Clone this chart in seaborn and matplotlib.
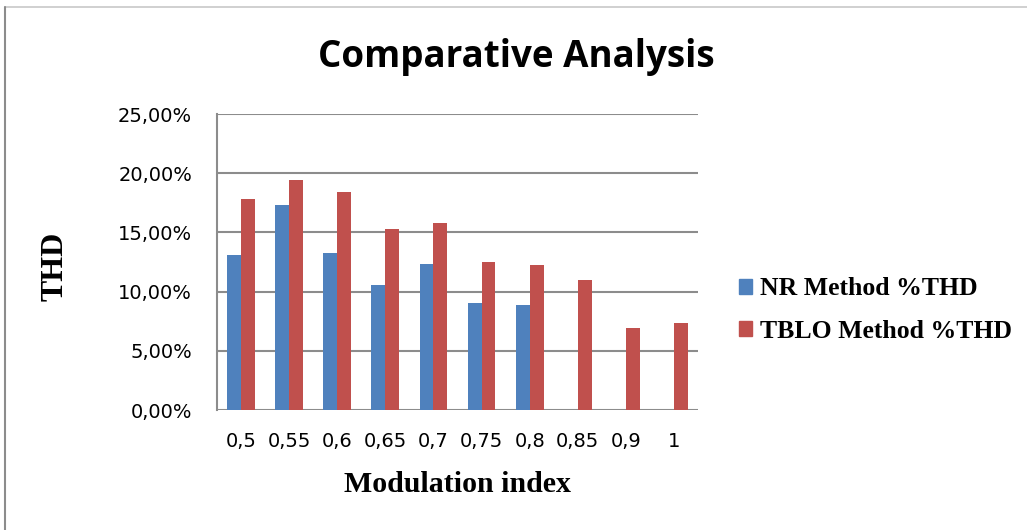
import matplotlib
matplotlib.use("Agg")
import matplotlib.pyplot as plt
from matplotlib.lines import Line2D
from matplotlib.ticker import FuncFormatter, MultipleLocator
import seaborn as sns
import pandas as pd

modulation_index = ["0,5", "0,55", "0,6", "0,65", "0,7", "0,75", "0,8", "0,85", "0,9", "1"]
nr_thd = [13.07, 17.29, 13.26, 10.56, 12.33, 9.04, 8.87, None, None, None]
tblo_thd = [17.85, 19.43, 18.38, 15.29, 15.79, 12.50, 12.22, 10.98, 6.95, 7.32]
series_names = ["NR Method %THD", "TBLO Method %THD"]
colors = ["#4F81BD", "#C0504D"]

df = pd.DataFrame({
    "Modulation index": modulation_index * 2,
    "THD": nr_thd + tblo_thd,
    "Series": [series_names[0]] * len(modulation_index) + [series_names[1]] * len(modulation_index),
})

sns.set_theme(style="white")
plt.rcParams.update({"text.color": "black", "axes.labelcolor": "black",
                     "xtick.color": "black", "ytick.color": "black"})

fig = plt.figure(figsize=(10.27, 5.30), dpi=100)
ax = fig.add_axes([217 / 1027, 1 - 410 / 530, (698 - 217) / 1027, (410 - 114) / 530])

sns.barplot(data=df, x="Modulation index", y="THD", hue="Series",
            palette=colors, width=0.58, ax=ax, saturation=1, dodge=True)
for p in ax.patches:
    p.set_edgecolor("none")

ax.set_ylim(0, 25)
ax.yaxis.set_major_locator(MultipleLocator(5))
ax.yaxis.set_major_formatter(FuncFormatter(lambda v, _: f"{v:.2f}%".replace(".", ",")))
ax.yaxis.grid(True, color="#8C8C8C", linewidth=1.5)
ax.set_axisbelow(True)
for side in ["top", "right", "bottom"]:
    ax.spines[side].set_visible(False)
ax.spines["left"].set_color("#8C8C8C")
ax.spines["left"].set_linewidth(1.5)
ax.tick_params(axis="both", length=0, labelsize=14, labelcolor="black")
ax.tick_params(axis="y", pad=18)
ax.tick_params(axis="x", pad=16)
for lbl in ax.get_xticklabels() + ax.get_yticklabels():
    lbl.set_fontfamily("DejaVu Sans")

ax.set_xlabel("Modulation index", fontfamily="Liberation Serif", fontweight="bold",
              fontsize=21.5, labelpad=14)
ax.set_ylabel("")
fig.text(55 / 1027, 1 - 266 / 530, "THD", rotation=90, ha="center", va="center",
         fontfamily="Liberation Serif", fontweight="bold", fontsize=23)

fig.text(0.503, 1 - 57 / 530, "Comparative Analysis", ha="center", va="center",
         fontfamily="Open Sans", fontweight="bold", fontsize=26.5)

handles = [plt.Rectangle((0, 0), 1, 1, color=c) for c in colors]
ax.get_legend().remove()
fig.legend(handles, series_names, loc="center left", bbox_to_anchor=(716 / 1027, 1 - 310 / 530),
           frameon=False, handlelength=0.5, handleheight=0.5, handletextpad=0.3,
           labelspacing=0.75,
           prop={"family": "Liberation Serif", "weight": "bold", "size": 18.5})

# outer chart frame
fig.add_artist(Line2D([5 / 1027, 1], [1 - 7 / 530, 1 - 7 / 530], color="#C8C8C8", linewidth=1.2))
fig.add_artist(Line2D([5 / 1027, 5 / 1027], [0, 1 - 7 / 530], color="#8C8C8C", linewidth=1.5))

fig.savefig("out.png", dpi=100)
